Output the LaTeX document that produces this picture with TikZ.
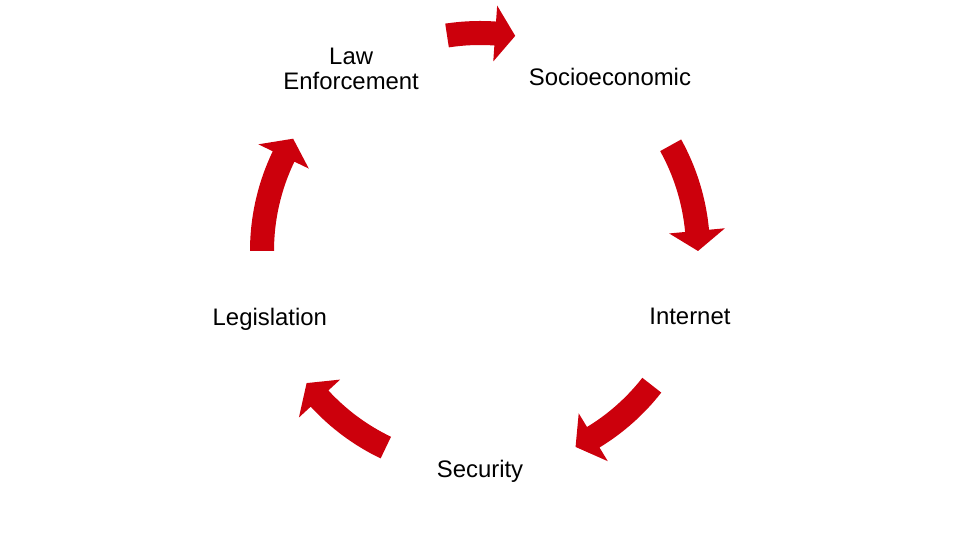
\documentclass[tikz,border=0pt]{standalone}
\usepackage{fontspec}
\setmainfont{Liberation Sans}
\definecolor{cyclered}{RGB}{204,0,12}
\tikzset{
  stage/.style={font=\fontsize{13.6}{14.2}\selectfont, align=center, inner sep=0pt},
  cyclearrow/.style={fill=cyclered, draw=none},
}
\begin{document}
\begin{tikzpicture}[x=0.02cm, y=0.02cm]
  \useasboundingbox (0,0) rectangle (960,540);
  \coordinate (c) at (480,289);
  \begin{scope}[shift={(c)}]
    \draw
      (125.3:223) node[stage] (law){Law\\Enforcement}
      (53.2:217) node[stage] (socio){Socioeconomic}
      (-17.4:220) node[stage] (internet){Internet}
      (-90:220) node[stage] (security){Security}
      (198:221) node[stage] (legis){Legislation};
    % curved block arrows, tail angle / tip angle
    \foreach \tail/\tip in {98.7/80.7, 29/0, -38/-64, 244.4/217.3, 180/149} {
      \pgfmathsetmacro\base{\tip+5.3}
      \fill[cyclearrow]
        (\tail:230) arc[start angle=\tail, end angle=\base, radius=230]
        -- (\base:246) -- (\tip:218) -- (\base:190) -- (\base:206)
        arc[start angle=\base, end angle=\tail, radius=206] -- cycle;
    }
  \end{scope}
\end{tikzpicture}
\end{document}
